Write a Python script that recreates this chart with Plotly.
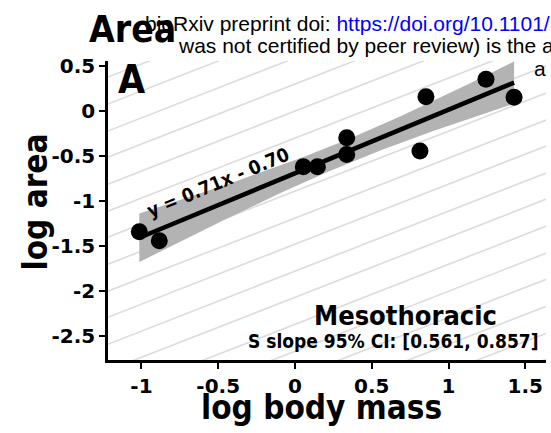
import numpy as np
import plotly.graph_objects as go

# ---- data ----
log_mass = [-1.014, -0.884, 0.054, 0.146, 0.337, 0.337, 0.814, 0.853, 1.244, 1.427]
log_area = [-1.341, -1.441, -0.619, -0.619, -0.296, -0.482, -0.444, 0.159, 0.352, 0.152]

x_tick_vals = [-1, -0.5, 0, 0.5, 1, 1.5]
x_tick_text = ["-1", "-0.5", "0", "0.5", "1", "1.5"]
y_tick_vals = [-2.5, -2, -1.5, -1, -0.5, 0, 0.5]
y_tick_text = ["-2.5", "-2", "-1.5", "-1", "-0.5", "0", "0.5"]

# background isometric guide lines: slope and intercepts
guide_slope = 2 / 3
guide_intercepts = [1.48, 1.19, 0.89, 0.59, 0.30, 0.00, -0.30, -0.59, -0.89, -1.19,
                    -1.48, -1.78, -2.07, -2.37, -2.67, -2.96, -3.26, -3.56, -3.85, -4.15]

equation_text = "y = 0.71x - 0.70"
group_label = "Mesothoracic"
ci_text = "S slope 95% CI: [0.561, 0.857]"

# ---- regression and 95% confidence band ----
xa = np.array(log_mass)
ya = np.array(log_area)
slope, intercept = np.polyfit(xa, ya, 1)
n = len(xa)
resid = ya - (slope * xa + intercept)
s = np.sqrt(np.sum(resid ** 2) / (n - 2))
sxx = np.sum((xa - xa.mean()) ** 2)
t_crit = 2.306
xg = np.linspace(xa.min(), xa.max(), 100)
yg = slope * xg + intercept
se = s * np.sqrt(1 / n + (xg - xa.mean()) ** 2 / sxx)
upper = yg + t_crit * se
lower = yg - t_crit * se

XR = [-1.218, 1.635]
YR = [-2.767, 0.556]

fig = go.Figure()

gx, gy = [], []
for c in guide_intercepts:
    gx += [-1.5, 2.0, None]
    gy += [guide_slope * -1.5 + c, guide_slope * 2.0 + c, None]
fig.add_trace(go.Scatter(x=gx, y=gy, mode="lines",
                         line=dict(color="#dcdcdc", width=1.6),
                         hoverinfo="skip", showlegend=False))

fig.add_trace(go.Scatter(x=np.concatenate([xg, xg[::-1]]),
                         y=np.concatenate([upper, lower[::-1]]),
                         fill="toself", fillcolor="#b3b3b3",
                         line=dict(width=0), mode="lines",
                         hoverinfo="skip", showlegend=False))

fig.add_trace(go.Scatter(x=xg, y=yg, mode="lines",
                         line=dict(color="black", width=4.5),
                         showlegend=False))

fig.add_trace(go.Scatter(x=log_mass, y=log_area, mode="markers",
                         marker=dict(color="black", size=17),
                         showlegend=False))

L, T, W, H = 108, 61, 438, 299


def px(xp):
    return (xp - L) / W


def py(yp):
    return (T + H - yp) / H


FONT = "Liberation Sans, Arial, sans-serif"
FONT_B = "DejaVu Sans Condensed, DejaVu Sans, sans-serif"
bold = lambda sz, fam=FONT_B: dict(family=fam, size=sz, color="black", weight="bold")

annotations = [
    dict(text="bioRxiv preprint doi: <span style='color:#0000ff'>https://doi.org/10.1101/</span>",
         x=px(143), y=py(23.2), xanchor="left", yanchor="middle",
         font=dict(family=FONT, size=21, color="black")),
    dict(text="was not certified by peer review) is the a",
         x=px(176), y=py(45.2), xanchor="left", yanchor="middle",
         font=dict(family=FONT, size=21, color="black")),
    dict(text="a", x=px(532), y=py(68.2), xanchor="left", yanchor="middle",
         font=dict(family=FONT, size=21, color="black")),
    dict(text="Area", x=px(87), y=py(29), xanchor="left", yanchor="middle", font=bold(37)),
    dict(text="A", x=px(116), y=py(80), xanchor="left", yanchor="middle", font=bold(39)),
    dict(text=group_label, x=px(405), y=py(315.3), xanchor="center", yanchor="middle", font=bold(27)),
    dict(text=ci_text, x=px(393.5), y=py(340.7), xanchor="center", yanchor="middle", font=bold(19)),
    dict(text="log area", x=px(35), y=py(202.5), xanchor="center", yanchor="middle",
         textangle=-90, font=bold(33)),
    dict(text="log body mass", x=px(321.5), y=py(407), xanchor="center", yanchor="middle", font=bold(33)),
]
for a in annotations:
    a.update(xref="paper", yref="paper", showarrow=False)

annotations.append(dict(text=equation_text, x=-0.50, y=-0.789, xref="x", yref="y",
                        showarrow=False, textangle=-22.6, xanchor="center", yanchor="middle",
                        font=bold(19)))

axis_common = dict(showgrid=False, zeroline=False, showline=True, linecolor="black",
                   linewidth=2.5, ticks="outside", ticklen=6, tickwidth=2, tickcolor="black",
                   tickfont=bold(20, "DejaVu Sans, sans-serif"), mirror=False)

fig.update_layout(
    width=551, height=433,
    margin=dict(l=L, r=551 - L - W, t=T, b=433 - T - H, autoexpand=False),
    plot_bgcolor="white", paper_bgcolor="white",
    xaxis=dict(range=XR, tickvals=x_tick_vals, ticktext=x_tick_text, **axis_common),
    yaxis=dict(range=YR, tickvals=y_tick_vals, ticktext=y_tick_text, **axis_common),
    annotations=annotations,
    showlegend=False,
)

fig.write_html("out.html")
